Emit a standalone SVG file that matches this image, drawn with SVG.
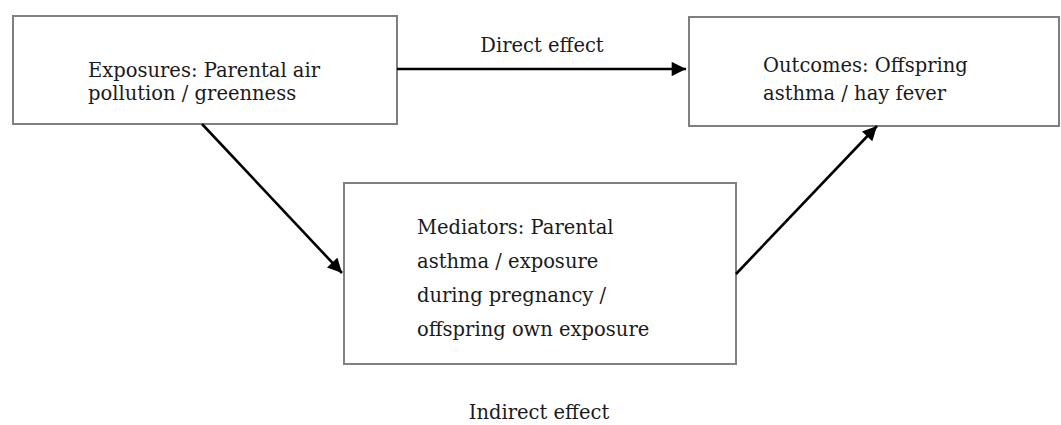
<svg xmlns="http://www.w3.org/2000/svg" width="1061" height="425" viewBox="0 0 1061 425">
<defs>
<style>
.box{fill:#fff;stroke:#808080;stroke-width:2}
.t{font-family:"DejaVu Serif","Liberation Serif",serif;font-size:19.5px;fill:#1a1a1a}
.c{stroke:#000;stroke-width:2.6;fill:none}
</style>
<marker id="ah" viewBox="0 0 10 10" refX="10" refY="5" markerWidth="6" markerHeight="5.5" markerUnits="strokeWidth" orient="auto">
<path d="M0,0 L10,5 L0,10 z" fill="#000"/>
</marker>
</defs>
<rect width="1061" height="425" fill="#fff"/>
<g id="exposures">
<rect class="box" x="13" y="16" width="384" height="108"/>
<text class="t" x="88" y="77">Exposures: Parental air</text>
<text class="t" x="88" y="100">pollution / greenness</text>
</g>
<g id="outcomes">
<rect class="box" x="689" y="17" width="370" height="109"/>
<text class="t" x="763" y="72">Outcomes: Offspring</text>
<text class="t" x="763" y="100">asthma / hay fever</text>
</g>
<g id="mediators">
<rect class="box" x="344" y="183" width="392" height="181"/>
<text class="t" x="417" y="234">Mediators: Parental</text>
<text class="t" x="417" y="268">asthma / exposure</text>
<text class="t" x="417" y="302">during pregnancy /</text>
<text class="t" x="417" y="336">offspring own exposure</text>
</g>
<g id="connectors">
<line class="c" x1="397" y1="69" x2="686" y2="69" marker-end="url(#ah)"/>
<line class="c" x1="202" y1="124" x2="342" y2="273" marker-end="url(#ah)"/>
<line class="c" x1="736" y1="274" x2="877" y2="126" marker-end="url(#ah)"/>
</g>
<g id="labels">
<text class="t" x="542" y="52" text-anchor="middle">Direct effect</text>
<text class="t" x="539" y="419" text-anchor="middle">Indirect effect</text>
</g>
</svg>
